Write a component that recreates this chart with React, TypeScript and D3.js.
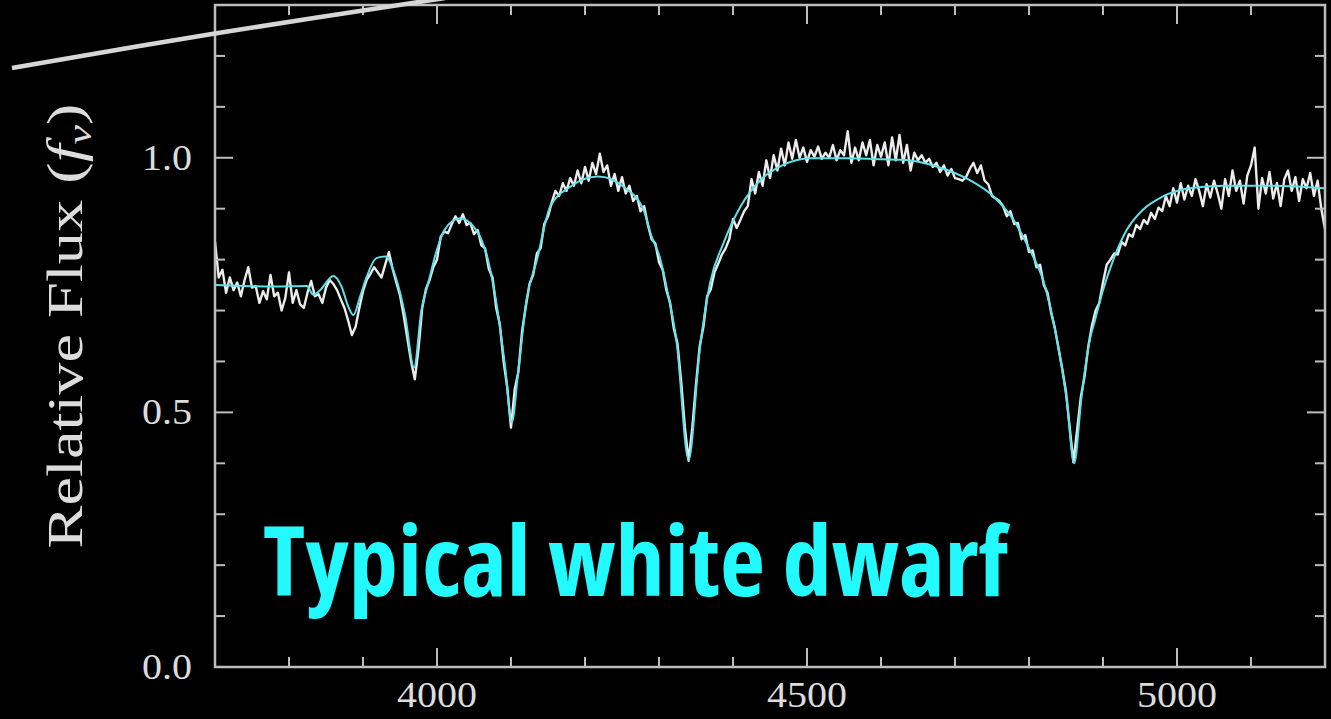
import React, { useEffect, useRef } from 'react';
import * as d3 from 'd3';

// observed spectrum (white), one value every 5 Å starting at 3700 Å
const obsStart = 3700;
const obsStep = 5;
const obsFlux = [
  0.835, 0.765, 0.780, 0.735, 0.765, 0.740, 0.755, 0.728, 0.760, 0.785,
  0.745, 0.748, 0.715, 0.738, 0.722, 0.770, 0.728, 0.735, 0.700, 0.725,
  0.775, 0.715, 0.740, 0.712, 0.705, 0.735, 0.758, 0.728, 0.732, 0.715,
  0.745, 0.760, 0.752, 0.740, 0.722, 0.705, 0.680, 0.652, 0.668, 0.705,
  0.738, 0.760, 0.772, 0.785, 0.775, 0.765, 0.790, 0.815, 0.782, 0.755,
  0.730, 0.690, 0.645, 0.600, 0.565, 0.625, 0.705, 0.742, 0.760, 0.785,
  0.800, 0.845, 0.855, 0.852, 0.870, 0.885, 0.872, 0.889, 0.868, 0.872,
  0.850, 0.858, 0.828, 0.822, 0.782, 0.765, 0.705, 0.672, 0.600, 0.548,
  0.470, 0.545, 0.580, 0.660, 0.708, 0.752, 0.770, 0.812, 0.822, 0.870,
  0.885, 0.912, 0.935, 0.925, 0.950, 0.935, 0.960, 0.945, 0.975, 0.950,
  0.982, 0.955, 0.990, 0.968, 1.008, 0.972, 0.985, 0.945, 0.968, 0.935,
  0.962, 0.930, 0.945, 0.915, 0.925, 0.895, 0.905, 0.868, 0.840, 0.832,
  0.795, 0.780, 0.740, 0.715, 0.665, 0.635, 0.560, 0.470, 0.405, 0.470,
  0.555, 0.630, 0.668, 0.728, 0.742, 0.775, 0.792, 0.810, 0.822, 0.840,
  0.880, 0.862, 0.878, 0.895, 0.905, 0.958, 0.930, 0.972, 0.945, 0.995,
  0.960, 1.005, 0.975, 1.018, 0.985, 1.030, 0.998, 1.035, 1.000, 1.020,
  0.992, 1.015, 1.002, 1.022, 0.998, 1.010, 1.000, 1.025, 0.995, 1.015,
  1.005, 1.052, 0.990, 1.020, 0.995, 1.030, 1.005, 1.035, 0.985, 1.025,
  1.002, 1.030, 0.985, 1.040, 0.995, 1.045, 0.990, 1.025, 0.975, 1.010,
  0.995, 1.005, 0.990, 0.998, 0.982, 0.990, 0.972, 0.985, 0.965, 0.978,
  0.960, 0.958, 0.955, 0.962, 0.978, 0.990, 0.970, 0.985, 0.955, 0.948,
  0.925, 0.920, 0.915, 0.905, 0.885, 0.895, 0.870, 0.872, 0.840, 0.848,
  0.815, 0.818, 0.785, 0.790, 0.750, 0.735, 0.695, 0.665, 0.625, 0.585,
  0.540, 0.470, 0.402, 0.465, 0.530, 0.570, 0.628, 0.670, 0.700, 0.715,
  0.755, 0.790, 0.800, 0.812, 0.810, 0.835, 0.828, 0.850, 0.845, 0.868,
  0.860, 0.878, 0.870, 0.892, 0.880, 0.902, 0.895, 0.925, 0.905, 0.940,
  0.912, 0.950, 0.918, 0.945, 0.925, 0.958, 0.935, 0.905, 0.948, 0.922,
  0.955, 0.930, 0.900, 0.958, 0.925, 0.975, 0.935, 0.955, 0.910, 0.965,
  0.985, 1.020, 0.900, 0.960, 0.930, 0.972, 0.920, 0.950, 0.905, 0.958,
  0.975, 0.935, 0.962, 0.915, 0.958, 0.940, 0.970, 0.925, 0.955, 0.900,
  0.860,
];

// model fit (cyan)
const modelWave = [
  3700, 3740, 3780, 3824, 3833, 3842, 3860, 3871, 3880, 3887, 3896, 3905, 3918, 3930,
  3945, 3957, 3969, 3979, 3988, 4000, 4010, 4031, 4053, 4069, 4081, 4092, 4101, 4110,
  4121, 4135, 4153, 4180, 4218, 4252, 4279, 4290, 4301, 4310, 4324, 4340, 4355, 4369,
  4387, 4410, 4437, 4468, 4504, 4558, 4600, 4630, 4675, 4720, 4752, 4779, 4801, 4819,
  4837, 4851, 4861, 4871, 4882, 4889, 4900, 4914, 4932, 4954, 4981, 5017, 5063, 5130, 5200,
];
const modelFlux = [
  0.750, 0.748, 0.747, 0.748, 0.731, 0.740, 0.768, 0.747, 0.708, 0.691, 0.727, 0.766, 0.803, 0.806,
  0.762, 0.690, 0.588, 0.701, 0.753, 0.820, 0.858, 0.881, 0.858, 0.799, 0.708, 0.590, 0.480, 0.583,
  0.721, 0.799, 0.904, 0.943, 0.963, 0.943, 0.898, 0.845, 0.805, 0.747, 0.636, 0.407, 0.623, 0.754,
  0.832, 0.904, 0.956, 0.986, 0.999, 0.999, 0.997, 0.996, 0.983, 0.956, 0.924, 0.878, 0.819, 0.760,
  0.649, 0.524, 0.400, 0.531, 0.642, 0.680, 0.740, 0.800, 0.858, 0.898, 0.924, 0.940, 0.945, 0.945, 0.940,
];

const xLabelTicks = [4000, 4500, 5000];
const yLabelTicks = [0.0, 0.5, 1.0];
const title = 'Typical white dwarf';

const W = 1331;
const H = 719;
const plot = { left: 215, right: 1325, top: 5, bottom: 667 };
const frameColor = '#bdbdbd';
const labelColor = '#dcdcdc';
const labelFont = '"Liberation Serif", "DejaVu Serif", serif';

const drawAxes = (svg, x, y) => {
  svg.append('rect')
    .attr('x', plot.left).attr('y', plot.top)
    .attr('width', plot.right - plot.left).attr('height', plot.bottom - plot.top)
    .attr('fill', 'none').attr('stroke', frameColor).attr('stroke-width', 2.5);

  // x ticks every 100 A, longer every 500, on bottom and top
  x.ticks(15).forEach(t => {
    const len = t % 500 === 0 ? 19 : 10;
    const px = x(t);
    svg.append('line').attr('x1', px).attr('x2', px)
      .attr('y1', plot.bottom).attr('y2', plot.bottom - len)
      .attr('stroke', frameColor).attr('stroke-width', 2);
    svg.append('line').attr('x1', px).attr('x2', px)
      .attr('y1', plot.top).attr('y2', plot.top + len)
      .attr('stroke', frameColor).attr('stroke-width', 2);
  });

  // y ticks every 0.1, longer every 0.5, on left and right
  y.ticks(13).forEach(t => {
    const len = Math.round(t * 10) % 5 === 0 ? 18 : 10;
    const py = y(t);
    svg.append('line').attr('x1', plot.left).attr('x2', plot.left + len)
      .attr('y1', py).attr('y2', py)
      .attr('stroke', frameColor).attr('stroke-width', 2);
    svg.append('line').attr('x1', plot.right).attr('x2', plot.right - len)
      .attr('y1', py).attr('y2', py)
      .attr('stroke', frameColor).attr('stroke-width', 2);
  });

  const fmt = d3.format('.1f');
  yLabelTicks.forEach(t => {
    svg.append('text')
      .attr('x', 192).attr('y', y(t) + 12)
      .attr('text-anchor', 'end')
      .attr('textLength', 50).attr('lengthAdjust', 'spacingAndGlyphs')
      .attr('fill', labelColor)
      .style('font-family', labelFont)
      .style('font-size', '36px')
      .text(fmt(t));
  });

  xLabelTicks.forEach(t => {
    svg.append('text')
      .attr('x', x(t)).attr('y', 707)
      .attr('text-anchor', 'middle')
      .attr('textLength', 80).attr('lengthAdjust', 'spacingAndGlyphs')
      .attr('fill', labelColor)
      .style('font-family', labelFont)
      .style('font-size', '36px')
      .text(String(t));
  });

  // y axis title, rotated
  const yt = svg.append('text')
    .attr('transform', 'translate(82,326) rotate(-90)')
    .attr('text-anchor', 'middle')
    .attr('textLength', 445).attr('lengthAdjust', 'spacingAndGlyphs')
    .attr('fill', labelColor)
    .style('font-family', labelFont)
    .style('font-size', '50px');
  yt.append('tspan').text('Relative Flux (');
  yt.append('tspan').style('font-style', 'italic').text('f');
  yt.append('tspan').attr('dy', 9).style('font-size', '34px').style('font-style', 'italic').text('ν');
  yt.append('tspan').attr('dy', -9).text(')');
};

const drawSpectra = (svg, x, y) => {
  svg.append('clipPath').attr('id', 'plot-clip')
    .append('rect')
    .attr('x', plot.left).attr('y', plot.top)
    .attr('width', plot.right - plot.left).attr('height', plot.bottom - plot.top);

  const g = svg.append('g').attr('clip-path', 'url(#plot-clip)');

  const obs = obsFlux.map((f, i) => [obsStart + i * obsStep, f]);
  const obsLine = d3.line().x(d => x(d[0])).y(d => y(d[1]));
  g.append('path')
    .datum(obs)
    .attr('d', obsLine)
    .attr('fill', 'none')
    .attr('stroke', '#ececec')
    .attr('stroke-width', 2.4)
    .attr('stroke-linejoin', 'round');

  const model = modelWave.map((w, i) => [w, modelFlux[i]]);
  const modelLine = d3.line().x(d => x(d[0])).y(d => y(d[1])).curve(d3.curveMonotoneX);
  g.append('path')
    .datum(model)
    .attr('d', modelLine)
    .attr('fill', 'none')
    .attr('stroke', '#5ee2ea')
    .attr('stroke-width', 2);
};

const drawOverlay = (svg) => {
  // slide decoration: grey stroke crossing the top-left corner
  const pts = [[12, 68], [215, 33.5], [445, -2]];
  svg.append('path')
    .attr('d', d3.line().curve(d3.curveCardinal)(pts))
    .attr('fill', 'none')
    .attr('stroke', '#d6d6d6')
    .attr('stroke-width', 4.5);

  svg.append('text')
    .attr('x', 263).attr('y', 596)
    .attr('textLength', 745).attr('lengthAdjust', 'spacingAndGlyphs')
    .attr('fill', '#22faff')
    .style('font-family', '"Open Sans", sans-serif')
    .style('font-weight', 700)
    .style('font-stretch', 'condensed')
    .style('font-size', '96px')
    .text(title);
};

const App = () => {
  const ref = useRef(null);

  useEffect(() => {
    document.body.style.margin = '0';
    document.body.style.background = '#000';
    const svg = d3.select(ref.current);
    svg.selectAll('*').remove();

    const x = d3.scaleLinear().domain([3700, 5200]).range([plot.left, plot.right]);
    const y = d3.scaleLinear().domain([0, 1.3]).range([plot.bottom, plot.top]);

    drawSpectra(svg, x, y);
    drawAxes(svg, x, y);
    drawOverlay(svg);
  }, []);

  return (
    <svg ref={ref} width={W} height={H}
      style={{ display: 'block', background: '#000', position: 'absolute', left: 0, top: 0 }} />
  );
};

export default App;
